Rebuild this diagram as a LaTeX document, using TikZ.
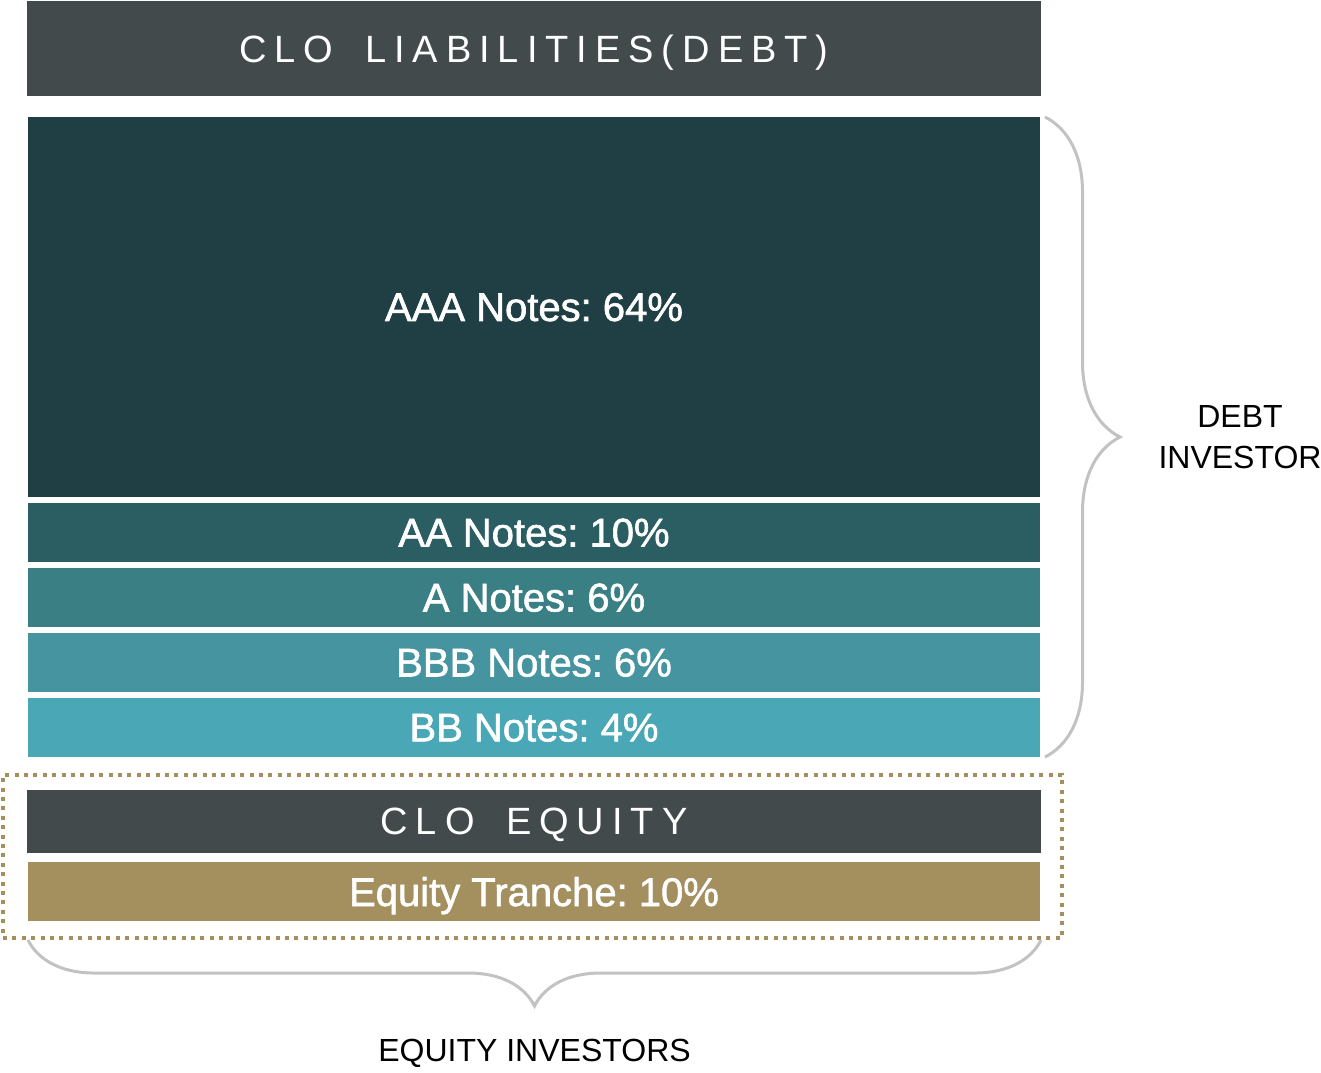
\documentclass[tikz,border=0pt]{standalone}
\usepackage{fontspec}
\setmainfont{Liberation Sans}
\newfontfamily\espaciada[LetterSpace=21,WordSpace=1.7]{Liberation Sans}
\newfontfamily\notas[FakeBold=1.5]{Liberation Sans}
\usepackage{tikz}
\usetikzlibrary{decorations.pathreplacing,fit,positioning}
\definecolor{gris}{HTML}{434A4C}
\definecolor{aaa}{HTML}{1F3F44}
\definecolor{aa}{HTML}{2A5E63}
\definecolor{a}{HTML}{3A7F84}
\definecolor{bbb}{HTML}{4594A0}
\definecolor{bb}{HTML}{4AA7B5}
\definecolor{oro}{HTML}{A48F5F}
\definecolor{llavegris}{HTML}{C2C2C2}
\frenchspacing
\tikzstyle{banda}=[rectangle,inner sep=0,outer sep=0,text depth=0pt,minimum width=506pt,minimum height=29.5pt,text=white,font=\notas\fontsize{20}{24}\selectfont]
\tikzstyle{titulo}=[banda,fill=gris,minimum width=507pt,font=\espaciada\fontsize{19}{23}\selectfont]
\tikzstyle{llave}=[draw=llavegris,line width=1.5pt,decorate]
\tikzstyle{inversor}=[inner sep=0,align=center,font=\fontsize{16}{20.5}\selectfont]

\begin{document}
\begin{tikzpicture}[x=0.5pt,y=-0.5pt]
	\useasboundingbox (0,0) rectangle (1321,1072);
	\begin{scope}[node distance=3pt]
		\node[titulo,minimum height=47.5pt] (deuda) at (534,48.5) {CLO LIABILITIES(DEBT)};
		\node[banda,fill=aaa,minimum height=190pt] (naaa) [below=10.5pt of deuda] {AAA Notes: 64\%};
		\node[banda,fill=aa] (naa) [below=of naaa] {AA Notes: 10\%};
		\node[banda,fill=a] (na) [below=of naa] {A Notes: 6\%};
		\node[banda,fill=bbb] (nbbb) [below=of na] {BBB Notes: 6\%};
		\node[banda,fill=bb] (nbb) [below=of nbbb] {BB Notes: 4\%};
		\node[titulo,minimum height=31.5pt] (capital) [below=16.5pt of nbb] {CLO EQUITY};
		\node[banda,fill=oro] (tramo) [below=4.5pt of capital] {Equity Tranche: 10\%};
	\end{scope}
	% marco punteado del equity
	\node[draw=oro,line width=2pt,dash pattern=on 2pt off 2.7pt,inner xsep=11.25pt,inner ysep=8pt,xshift=-0.75pt,yshift=-0.5pt,fit=(capital)(tramo)] (marco) {};
	% llaves
	\draw[llave,decoration={brace,amplitude=37.5pt}] ([xshift=2.5pt]naaa.north east) -- node[inversor,right=56pt] (deudores) {DEBT\\INVESTOR} ([xshift=2.5pt]nbb.south east);
	\draw[llave,decoration={brace,amplitude=33pt}] ([xshift=0.5pt]tramo.east |- marco.south) -- node[inversor,yshift=-56.5pt] (accionistas) {EQUITY INVESTORS} (tramo.west |- marco.south);
\end{tikzpicture}
\end{document}
